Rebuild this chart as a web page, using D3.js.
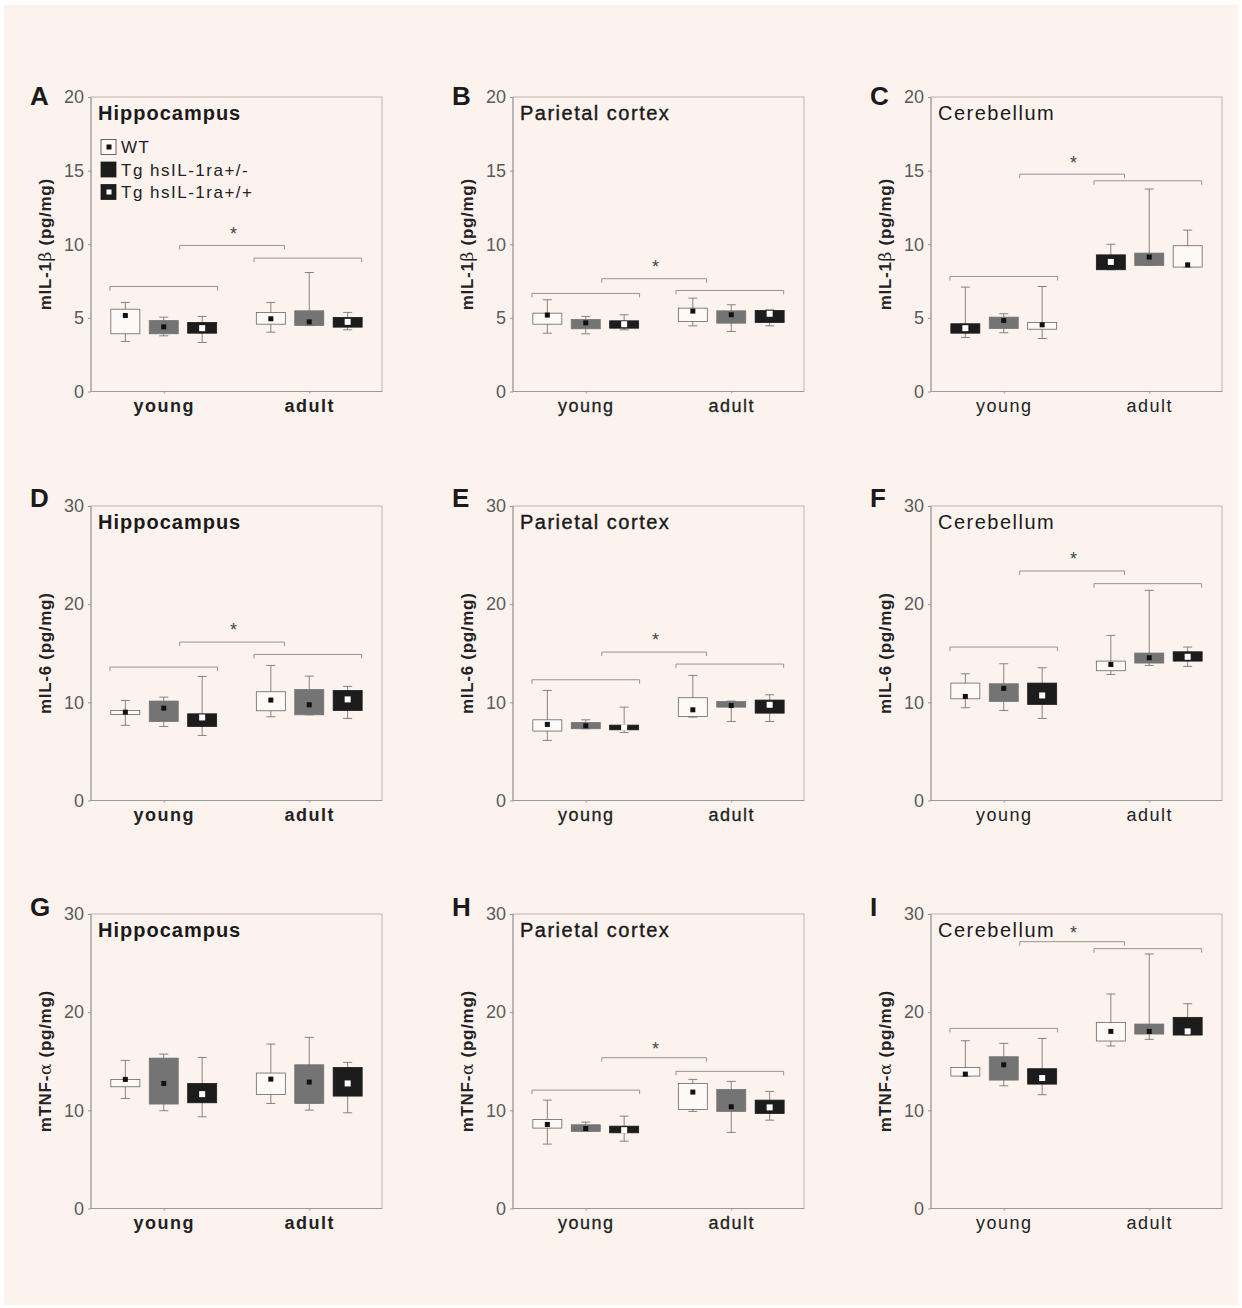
<!DOCTYPE html>
<html>
<head>
<meta charset="utf-8">
<style>
  body { margin: 0; background: #fff; font-family: "Liberation Sans", Arial, sans-serif; }
  .tick text { font-family: "Liberation Sans", Arial, sans-serif; }
  .ytick .tick text { font-size: 18px; fill: #5a5a5a; }
</style>
<title>Cytokines</title>
</head>
<body>
<script src="https://cdn.jsdelivr.net/npm/d3@7"></script>
<script>

/* data: [whisker low, q1, q3, whisker high, mean]
   rows: young WT, young +/-, young +/+, adult WT, adult +/-, adult +/+ */

var panelLetters = ["A", "B", "C", "D", "E", "F", "G", "H", "I"];
var regions = ["Hippocampus", "Parietal cortex", "Cerebellum"];
var ages = ["young", "adult"];
var genotypes = ["WT", "Tg hsIL-1ra+/-", "Tg hsIL-1ra+/+"];
var yTitles = [["mIL-1", "\u03b2", " (pg/mg)"], ["mIL-6 (pg/mg)", "", ""], ["mTNF-", "\u03b1", " (pg/mg)"]];
var yMax = [20, 30, 30];
var yTicks = [[0, 5, 10, 15, 20], [0, 10, 20, 30], [0, 10, 20, 30]];

var il1bHippo = [[3.4, 3.92, 5.59, 6.05, 5.16], [3.78, 3.92, 4.82, 5.05, 4.39], [3.33, 3.96, 4.69, 5.1, 4.3],
                 [4.03, 4.57, 5.37, 6.05, 4.94], [4.48, 4.48, 5.48, 8.08, 4.73], [4.19, 4.37, 5.03, 5.37, 4.73]];
var il1bParietal = [[3.96, 4.57, 5.32, 6.23, 5.19], [3.92, 4.26, 4.89, 5.1, 4.66], [4.19, 4.3, 4.8, 5.21, 4.57],
                    [4.46, 4.76, 5.66, 6.34, 5.46], [4.08, 4.64, 5.48, 5.89, 5.21], [4.46, 4.69, 5.5, 5.55, 5.28]];
var il1bCereb = [[3.6, 4.23, 4.69, 7.13, 4.53], [3.99, 4.28, 5.05, 5.28, 4.82], [3.67, 3.96, 4.6, 7.09, 4.3],
                 [8.45, 8.45, 9.9, 10.96, 8.6], [8.56, 8.56, 9.4, 13.75, 9.13], [8.27, 8.27, 9.28, 10.0, 8.8]];
var il6Hippo = [[7.65, 8.77, 9.17, 10.19, 9.0], [7.54, 8.05, 10.13, 10.53, 9.41], [6.63, 7.54, 8.83, 12.64, 8.46],
                [8.53, 9.14, 11.08, 13.76, 10.23], [8.73, 8.73, 11.31, 12.67, 9.75], [8.36, 9.17, 11.21, 11.62, 10.3]];
var il6Parietal = [[6.12, 7.07, 8.22, 11.21, 7.75], [7.31, 7.31, 7.95, 8.22, 7.61], [6.93, 7.2, 7.68, 9.51, 7.44],
                   [8.49, 8.56, 10.47, 12.74, 9.24], [8.05, 9.51, 10.09, 10.13, 9.68], [8.05, 8.9, 10.23, 10.77, 9.75]];
var il6Cereb = [[9.45, 10.36, 11.96, 12.91, 10.6], [9.17, 10.09, 11.89, 13.93, 11.42], [8.36, 9.79, 11.96, 13.52, 10.7],
                [12.84, 13.22, 14.2, 16.82, 13.86], [13.76, 14.0, 15.02, 21.41, 14.54], [13.66, 14.2, 15.15, 15.63, 14.64]];
var tnfHippo = [[11.21, 12.4, 13.15, 15.09, 13.15], [9.96, 10.64, 15.32, 15.73, 12.74], [9.34, 10.77, 12.74, 15.39, 11.65],
                [10.7, 11.62, 13.8, 16.75, 13.18], [10.02, 10.7, 14.64, 17.43, 12.88], [9.75, 11.45, 14.37, 14.88, 12.74]];
var tnfParietal = [[6.56, 8.19, 9.07, 11.04, 8.56], [7.85, 7.85, 8.53, 8.8, 8.15], [6.86, 7.71, 8.39, 9.41, 7.98],
                   [9.89, 10.09, 12.74, 13.15, 11.86], [7.75, 9.89, 12.13, 12.95, 10.36], [9.0, 9.68, 11.04, 11.93, 10.3]];
var tnfCereb = [[13.49, 13.49, 14.37, 17.09, 13.69], [12.5, 13.08, 15.46, 16.82, 14.64], [11.59, 12.67, 14.24, 17.33, 13.29],
                [16.55, 17.06, 18.96, 21.85, 18.04], [17.23, 17.77, 18.79, 25.93, 18.04], [17.67, 17.67, 19.47, 20.86, 18.04]];

var panelStats = [il1bHippo, il1bParietal, il1bCereb, il6Hippo, il6Parietal, il6Cereb, tnfHippo, tnfParietal, tnfCereb];

// significance brackets: [young level, adult level, between level, star level]
var bracketLevels = [[7.13, 9.06, 9.92, 10.9], [6.66, 6.86, 7.66, 8.65], [7.81, 14.31, 14.76, 15.7],
                     [13.59, 14.88, 16.14, 17.67], [12.3, 13.9, 15.12, 16.7], [15.63, 22.09, 23.38, 24.9],
                     null, [12.06, 13.97, 15.36, 16.55], [18.35, 26.47, 27.18, 28.37]];

// box order left to right (C is drawn +/+, +/-, WT)
var boxOrder = [[0, 1, 2], [0, 1, 2], [2, 1, 0], [0, 1, 2], [0, 1, 2], [0, 1, 2], [0, 1, 2], [0, 1, 2], [0, 1, 2]];

/* layout */

var colX = [91, 513, 931];
var rowY = [97, 506, 914];
var letterY = [105, 507, 916];
var W = 291, H = 294.5;
var boxW = 29;

var fills = ["#fdf9f7", "#747474", "#1c1c1c"];
var dotFills = ["#111", "#111", "#fff"];

var svg = d3.select("body").append("svg")
	.attr("width", 1242)
	.attr("height", 1308);

svg.append("rect")
	.attr("x", 4).attr("y", 5)
	.attr("width", 1234).attr("height", 1300)
	.attr("fill", "#fcf3ef");

panelLetters.forEach(function(letter, i) {
	var r = Math.floor(i / 3), c = i % 3;
	var stats = panelStats[i];

	var y = d3.scaleLinear().domain([0, yMax[r]]).range([H, 0]);
	var ageX = d3.scalePoint().domain(ages).range([W * 0.25, W * 0.75]);
	var slotX = d3.scalePoint().domain([0, 1, 2]).range([-0.132 * W, 0.132 * W]);

	// panel letter
	svg.append("text")
		.attr("x", colX[c] - 61)
		.attr("y", letterY[r])
		.style("font-size", "26px")
		.style("font-weight", "bold")
		.style("fill", "#1a1a1a")
		.text(letter);

	var g = svg.append("g")
		.attr("transform", "translate(" + colX[c] + "," + rowY[r] + ")");

	// frame
	g.append("rect")
		.attr("width", W).attr("height", H)
		.style("fill", "none")
		.style("stroke", "#bdb5b2")
		.style("stroke-width", 1);
	g.append("path")
		.attr("d", "M0,0 V" + H + " H" + W)
		.style("fill", "none")
		.style("stroke", "#999")
		.style("stroke-width", 1);

	// y axis
	var yAxis = g.append("g")
		.attr("class", "ytick")
		.call(d3.axisLeft(y).tickValues(yTicks[r]).tickSize(3).tickPadding(4));
	yAxis.select(".domain").remove();
	yAxis.selectAll(".tick line").style("stroke", "#999");

	// x axis
	var xAxis = g.append("g")
		.attr("transform", "translate(0," + H + ")")
		.call(d3.axisBottom(ageX).tickSize(2).tickPadding(6));
	xAxis.select(".domain").remove();
	xAxis.selectAll(".tick line").style("stroke", "#999");
	xAxis.selectAll(".tick text")
		.style("font-size", "18px")
		.style("letter-spacing", "1.5px")
		.style("font-weight", c === 0 ? "bold" : "normal")
		.style("fill", "#222")
		.style("stroke", c === 1 ? "#222" : "none")
		.style("stroke-width", 0.3);

	// y title
	var yt = g.append("text")
		.attr("transform", "translate(-40," + (H / 2) + ") rotate(-90)")
		.attr("text-anchor", "middle")
		.style("font-size", "17px")
		.style("font-weight", "bold")
		.style("letter-spacing", "0.7px")
		.style("fill", "#222");
	yt.append("tspan").text(yTitles[r][0]);
	if (yTitles[r][1]) {
		yt.append("tspan").style("font-weight", "normal").style("font-family", "'DejaVu Serif', serif").text(yTitles[r][1]);
		yt.append("tspan").text(yTitles[r][2]);
	}

	// region title
	g.append("text")
		.attr("x", 7)
		.attr("y", 23)
		.style("font-size", "20px")
		.style("font-weight", c === 0 ? "bold" : "normal")
		.style("letter-spacing", c === 0 ? "1px" : "1.5px")
		.style("fill", "#1a1a1a")
		.style("stroke", c === 1 ? "#1a1a1a" : "none")
		.style("stroke-width", 0.4)
		.text(regions[c]);

	// boxes
	stats.forEach(function(s, k) {
		var age = ages[Math.floor(k / 3)];
		var gen = k % 3;
		var cx = ageX(age) + slotX(boxOrder[i].indexOf(gen));

		g.append("path")
			.attr("d", "M" + cx + "," + y(s[3]) + " V" + y(s[0]) +
				" M" + (cx - 4.5) + "," + y(s[3]) + " H" + (cx + 4.5) +
				" M" + (cx - 4.5) + "," + y(s[0]) + " H" + (cx + 4.5))
			.style("fill", "none")
			.style("stroke", "#777")
			.style("stroke-width", 0.9);

		g.append("rect")
			.attr("x", cx - boxW / 2)
			.attr("y", y(s[2]))
			.attr("width", boxW)
			.attr("height", Math.max(1, y(s[1]) - y(s[2])))
			.style("fill", fills[gen])
			.style("stroke", gen === 0 ? "#666" : fills[gen])
			.style("stroke-width", 0.8);

		var ds = gen === 2 ? 6 : 5;
		g.append("rect")
			.attr("x", cx - ds / 2)
			.attr("y", y(s[4]) - ds / 2)
			.attr("width", ds).attr("height", ds)
			.style("fill", dotFills[gen]);
	});

	// significance brackets
	var b = bracketLevels[i];
	if (b) {
		var spans = [[0.065, 0.435, b[0]], [0.56, 0.93, b[1]], [0.305, 0.665, b[2]]];
		spans.forEach(function(sp) {
			var yy = y(sp[2]);
			g.append("path")
				.attr("d", "M" + (sp[0] * W) + "," + (yy + 4) + " V" + yy + " H" + (sp[1] * W) + " V" + (yy + 4))
				.style("fill", "none")
				.style("stroke", "#8a8a8a")
				.style("stroke-width", 0.9);
		});
		g.append("text")
			.attr("x", 0.49 * W)
			.attr("y", y(b[3]) + 9)
			.attr("text-anchor", "middle")
			.style("font-size", "18px")
			.style("fill", "#444")
			.text("*");
	}

	// legend (panel A only)
	if (i === 0) {
		genotypes.forEach(function(name, k) {
			var ly = 50 + k * 22.5;
			g.append("rect")
				.attr("x", 10).attr("y", ly - 7.5)
				.attr("width", 15).attr("height", 15)
				.style("fill", k === 0 ? "#fdf9f7" : "#1c1c1c")
				.style("stroke", k === 0 ? "#444" : "#1c1c1c")
				.style("stroke-width", 0.8);
			if (k !== 1) {
				g.append("rect")
					.attr("x", 15.5).attr("y", ly - 2.5)
					.attr("width", 5).attr("height", 5)
					.style("fill", k === 0 ? "#111" : "#fff");
			}
			g.append("text")
				.attr("x", 30).attr("y", ly + 6)
				.style("font-size", "17px")
				.style("letter-spacing", "1.5px")
				.style("fill", "#222")
				.text(name);
		});
	}
});

</script>
</body>
</html>
